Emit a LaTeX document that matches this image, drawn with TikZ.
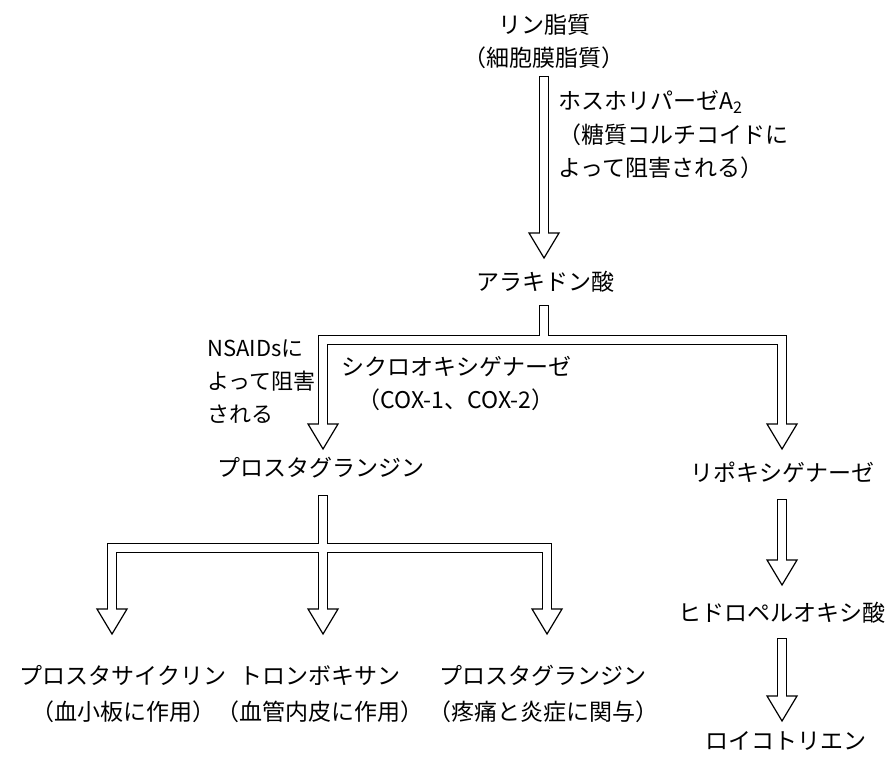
\documentclass[tikz,border=0pt]{standalone}
\usepackage{fontspec}
\setmainfont{Noto Sans CJK JP}
\usetikzlibrary{calc}
\begin{document}
\begin{tikzpicture}[x=1pt,y=-1pt,
  txt/.style={inner sep=0pt, font=\fontsize{23}{33.5}\selectfont, align=center},
  txtb/.style={txt, font=\fontsize{23}{36}\selectfont},
  txtl/.style={txt, align=left, anchor=west},
  outerline/.style={line width=10pt, draw=black, line join=miter},
  innerline/.style={line width=7.6pt, draw=white, line join=miter},
  headtri/.style={draw=black, fill=white, line width=1.2pt, line join=miter}]
\useasboundingbox (0,0) rectangle (888,757);

% ---- text nodes ----
\node[txt]  (lipid) at (544,41.5) {リン脂質\\（細胞膜脂質）};
\node[txtl] (pla)   at (558,134.5) {ホスホリパーゼA\textsubscript{2}\\（糖質コルチコイドに\\よって阻害される）};
\node[txt]  (ara)   at (545,282) {アラキドン酸};
\node[txtl, font=\fontsize{22}{33}\selectfont] (nsaid) at (207,382) {NSAIDsに\\よって阻害\\される};
\node[txt]  (cox)   at (456,383.5) {シクロオキシゲナーゼ\\（COX-1、COX-2）};
\node[txt]  (pg)    at (321,468) {プロスタグランジン};
\node[txt]  (lox)   at (782,472) {リポキシゲナーゼ};
\node[txt]  (hpa)   at (782,613) {ヒドロペルオキシ酸};
\node[txt]  (lt)    at (786,741) {ロイコトリエン};
\node[txtb] (pgi)   at (123,694) {プロスタサイクリン\\（血小板に作用）};
\node[txtb] (txa)   at (320,694) {トロンボキサン\\（血管内皮に作用）};
\node[txtb] (pge)   at (543,694) {プロスタグランジン\\（疼痛と炎症に関与）};

% ---- connector points ----
\coordinate (a0) at (544,76);   \coordinate (a1) at (544,258);
\coordinate (b0) at (544,305);  \coordinate (bJ) at (544,340);
\coordinate (bL) at (323,449);  \coordinate (bR) at (782,449);
\coordinate (c0) at (323,495);  \coordinate (cJ) at (323,548);
\coordinate (c1) at (112,634);  \coordinate (c2) at (323,634);  \coordinate (c3) at (547,634);
\coordinate (d0) at (782,499);  \coordinate (d1) at (782,585);
\coordinate (e0) at (782,638);  \coordinate (e1) at (782,721);

% ---- outer (black) shafts ----
\draw[outerline] (a0) -- ($(a1)+(0,-25)$);
\draw[outerline] (b0) -- (bJ);
\draw[outerline] ($(bL)+(0,-25)$) |- (bJ) -| ($(bR)+(0,-25)$);
\draw[outerline] (c0) -- ($(c2)+(0,-25)$);
\draw[outerline] ($(c1)+(0,-25)$) |- (cJ) -| ($(c3)+(0,-25)$);
\draw[outerline] (d0) -- ($(d1)+(0,-25)$);
\draw[outerline] (e0) -- ($(e1)+(0,-25)$);

% ---- heads ----
\foreach \t in {a1,bL,bR,c1,c2,c3,d1,e1}{
  \draw[headtri] ($(\t)+(-15,-25)$) -- ($(\t)+(15,-25)$) -- (\t) -- cycle;
}

% ---- inner (white) shafts ----
\draw[innerline] ($(a0)+(0,1.2)$) -- ($(a1)+(0,-23.4)$);
\draw[innerline] ($(b0)+(0,1.2)$) -- (bJ);
\draw[innerline] ($(bL)+(0,-23.4)$) |- (bJ) -| ($(bR)+(0,-23.4)$);
\draw[innerline] ($(c0)+(0,1.2)$) -- ($(c2)+(0,-23.4)$);
\draw[innerline] ($(c1)+(0,-23.4)$) |- (cJ) -| ($(c3)+(0,-23.4)$);
\draw[innerline] ($(d0)+(0,1.2)$) -- ($(d1)+(0,-23.4)$);
\draw[innerline] ($(e0)+(0,1.2)$) -- ($(e1)+(0,-23.4)$);
\end{tikzpicture}
\end{document}
